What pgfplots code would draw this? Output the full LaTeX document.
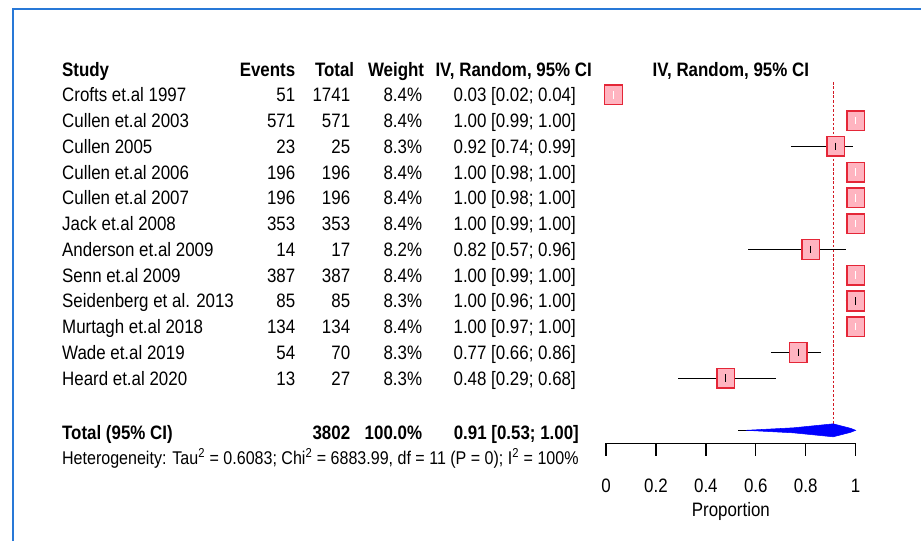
\documentclass[border=0pt]{standalone}
\usepackage{pgfplots}
\pgfplotsset{compat=1.18}
\usepackage{pgfplotstable}
\usepackage{fontspec}
\setmainfont{Liberation Sans}[FakeStretch=0.87]

\definecolor{boxfill}{RGB}{255,180,192}
\definecolor{boxedge}{RGB}{228,38,55}
\definecolor{refline}{RGB}{210,25,35}
\definecolor{frameblue}{RGB}{40,120,215}

\pgfplotstableread{
y est lo hi
95.0  0.03 0.02 0.04
120.8 1.00 0.99 1.00
146.6 0.92 0.74 0.99
172.4 1.00 0.98 1.00
198.2 1.00 0.98 1.00
224.0 1.00 0.99 1.00
249.8 0.82 0.57 0.96
275.6 1.00 0.99 1.00
301.4 1.00 0.96 1.00
327.2 1.00 0.97 1.00
353.0 0.77 0.66 0.86
378.8 0.48 0.29 0.68
}\studies

\newcommand{\fs}{\fontsize{14.6}{17}\selectfont}
\newcommand{\row}[6]{%
  \node[anchor=base west,inner sep=0pt,font=\fs] at (axis cs:-2.18,#1) {#2};
  \node[anchor=base east,inner sep=0pt,font=\fs] at (axis cs:-1.244,#1) {#3};
  \node[anchor=base east,inner sep=0pt,font=\fs] at (axis cs:-1.024,#1) {#4};
  \node[anchor=base east,inner sep=0pt,font=\fs] at (axis cs:-0.736,#1) {#5};
  \node[anchor=base east,inner sep=0pt,font=\fs] at (axis cs:-0.12,#1) {#6};
}

\begin{document}
\begin{tikzpicture}
\begin{axis}[
  width=691.5pt, height=406.5pt, scale only axis,
  xmin=-2.428, xmax=1.26, ymin=0, ymax=542, y dir=reverse,
  axis lines=none, ticks=none, clip=false, enlargelimits=false,
]
\path (rel axis cs:0,0) rectangle (rel axis cs:1,1);
% frame
\draw[frameblue, line width=2.2pt] (axis cs:-2.376,542) -- (axis cs:-2.376,9) -- (axis cs:1.26,9);

% reference line
\addplot[refline, dash pattern=on 2pt off 1.4pt, line width=1pt] coordinates {(0.91,82) (0.91,426)};

% boxes
\addplot[only marks, mark=square*, mark size=6.6pt, mark options={fill=boxfill, draw=boxedge, line width=1.1pt, yscale=1.12}] table[x=est,y=y]{\studies};

% wide CIs (black)
\addplot[black, line width=0.9pt] coordinates {(0.74,146.6) (0.99,146.6)};
\addplot[black, line width=0.9pt] coordinates {(0.57,249.8) (0.96,249.8)};
\addplot[black, line width=0.9pt] coordinates {(0.96,301.4) (1.00,301.4)};
\addplot[black, line width=0.9pt] coordinates {(0.66,353.0) (0.86,353.0)};
\addplot[black, line width=0.9pt] coordinates {(0.29,378.8) (0.68,378.8)};
\addplot[only marks, mark=|, mark size=2.8pt, mark options={black, line width=0.8pt}] coordinates {(0.92,146.6) (0.82,249.8) (1.00,301.4) (0.77,353.0) (0.48,378.8)};
% narrow CIs (white)
\addplot[white, line width=0.8pt] coordinates {(0.02,95.0) (0.04,95.0)};
\addplot[white, line width=0.8pt] coordinates {(0.99,120.8) (1.00,120.8)};
\addplot[white, line width=0.8pt] coordinates {(0.98,172.4) (1.00,172.4)};
\addplot[white, line width=0.8pt] coordinates {(0.98,198.2) (1.00,198.2)};
\addplot[white, line width=0.8pt] coordinates {(0.99,224.0) (1.00,224.0)};
\addplot[white, line width=0.8pt] coordinates {(0.99,275.6) (1.00,275.6)};
\addplot[white, line width=0.8pt] coordinates {(0.97,327.2) (1.00,327.2)};
\addplot[only marks, mark=|, mark size=2.8pt, mark options={white, line width=0.8pt}] coordinates {(0.03,95.0) (1.00,120.8) (1.00,172.4) (1.00,198.2) (1.00,224.0) (1.00,275.6) (1.00,327.2)};

% summary diamond
\addplot[black, line width=0.8pt] coordinates {(0.53,431) (0.58,431)};
\addplot[fill=blue, draw=blue, line width=0.4pt] coordinates {(0.56,431) (0.75,428.5) (0.91,424.5) (0.98,429) (1.00,431) (0.98,433) (0.91,437.5) (0.75,433.5)} --cycle;

% x axis
\addplot[black, line width=1pt] coordinates {(0,444) (1,444)};
\pgfplotsinvokeforeach{0,0.2,0.4,0.6,0.8,1}{
  \addplot[black, line width=1pt] coordinates {(#1,444) (#1,457)};
  \node[anchor=base, inner sep=0pt, font=\fs] at (axis cs:#1,493) {#1};
}
\node[anchor=base, inner sep=0pt, font=\fs] at (axis cs:0.5,517) {Proportion};

% header
\node[anchor=base west,inner sep=0pt,font=\fs\bfseries] at (axis cs:-2.18,77) {Study};
\node[anchor=base east,inner sep=0pt,font=\fs\bfseries] at (axis cs:-1.244,77) {Events};
\node[anchor=base east,inner sep=0pt,font=\fs\bfseries] at (axis cs:-1.008,77) {Total};
\node[anchor=base east,inner sep=0pt,font=\fs\bfseries] at (axis cs:-0.728,77) {Weight};
\node[anchor=base,inner sep=0pt,font=\fs\bfseries] at (axis cs:-0.37,77) {IV, Random, 95\% CI};
\node[anchor=base,inner sep=0pt,font=\fs\bfseries] at (axis cs:0.5,77) {IV, Random, 95\% CI};

\row{102.0}{Crofts et.al 1997}{51}{1741}{8.4\%}{0.03 [0.02; 0.04]}
\row{127.8}{Cullen et.al 2003}{571}{571}{8.4\%}{1.00 [0.99; 1.00]}
\row{153.6}{Cullen 2005}{23}{25}{8.3\%}{0.92 [0.74; 0.99]}
\row{179.4}{Cullen et.al 2006}{196}{196}{8.4\%}{1.00 [0.98; 1.00]}
\row{205.2}{Cullen et.al 2007}{196}{196}{8.4\%}{1.00 [0.98; 1.00]}
\row{231.0}{Jack et.al 2008}{353}{353}{8.4\%}{1.00 [0.99; 1.00]}
\row{256.8}{Anderson et.al 2009}{14}{17}{8.2\%}{0.82 [0.57; 0.96]}
\row{282.6}{Senn et.al 2009}{387}{387}{8.4\%}{1.00 [0.99; 1.00]}
\row{308.4}{Seidenberg et al. 2013}{85}{85}{8.3\%}{1.00 [0.96; 1.00]}
\row{334.2}{Murtagh et.al 2018}{134}{134}{8.4\%}{1.00 [0.97; 1.00]}
\row{360.0}{Wade et.al 2019}{54}{70}{8.3\%}{0.77 [0.66; 0.86]}
\row{385.8}{Heard et.al 2020}{13}{27}{8.3\%}{0.48 [0.29; 0.68]}

% total
\node[anchor=base west,inner sep=0pt,font=\fs\bfseries] at (axis cs:-2.18,440) {Total (95\% CI)};
\node[anchor=base east,inner sep=0pt,font=\fs\bfseries] at (axis cs:-1.024,440) {3802};
\node[anchor=base east,inner sep=0pt,font=\fs\bfseries] at (axis cs:-0.736,440) {100.0\%};
\node[anchor=base east,inner sep=0pt,font=\fs\bfseries] at (axis cs:-0.108,440) {0.91 [0.53; 1.00]};
\node[anchor=base west,inner sep=0pt,font=\fontsize{13.85}{16}\selectfont] at (axis cs:-2.18,465) {Heterogeneity: Tau\textsuperscript{2} = 0.6083; Chi\textsuperscript{2} = 6883.99, df = 11 (P = 0); I\textsuperscript{2} = 100\%};
\end{axis}
\end{tikzpicture}
\end{document}
